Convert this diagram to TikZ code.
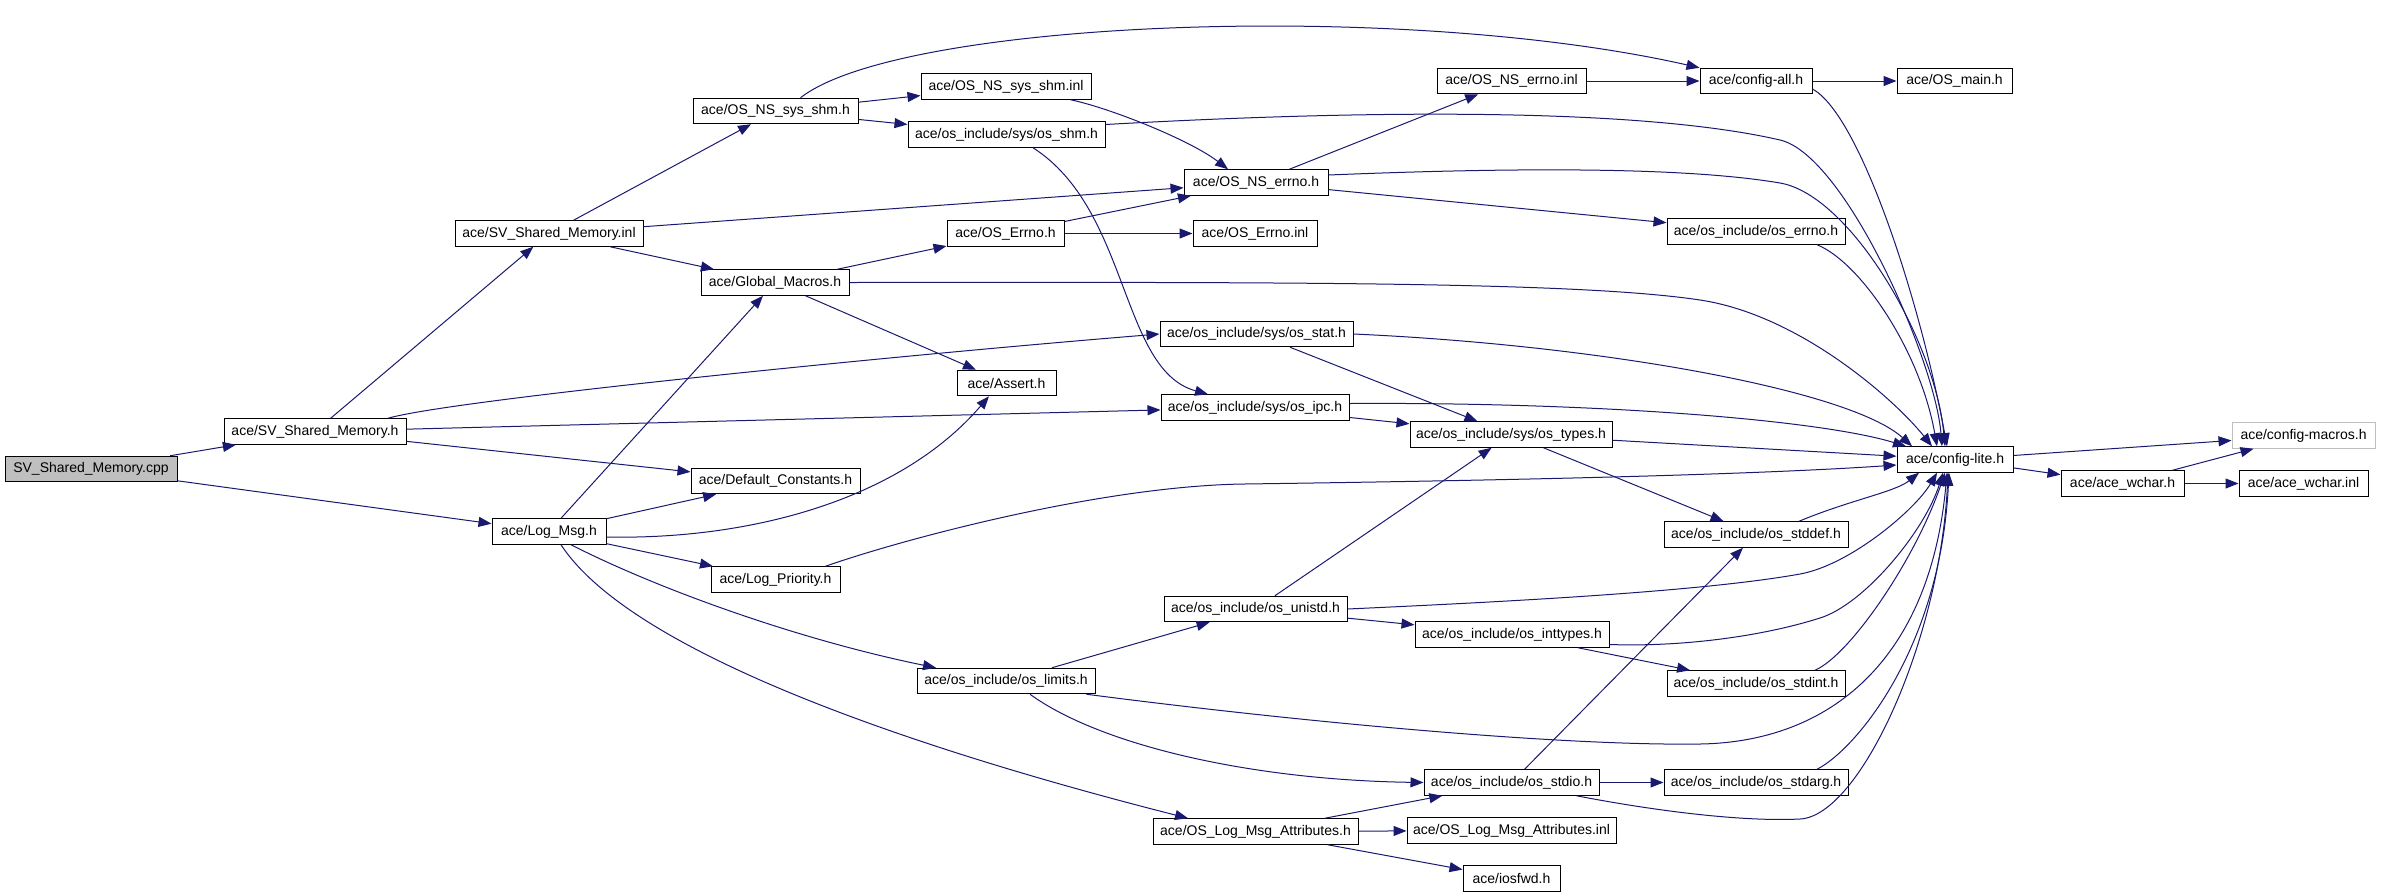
\documentclass[tikz,border=0pt]{standalone}
\usepackage{fontspec}
\newfontfamily\dotfont{Liberation Sans}
\usetikzlibrary{arrows.meta}
\definecolor{dotblue}{HTML}{191970}
\definecolor{dotgray}{HTML}{BFBFBF}

\begin{document}
\begin{tikzpicture}[x=0.5pt, y=-0.5pt,
    file/.style={draw=black, fill=white, line width=0.5pt, inner sep=1pt, minimum height=12.75pt, font=\dotfont\fontsize{7}{8}\selectfont},
    dep/.style={dotblue, line width=0.5pt, -{Triangle[length=6.5pt,width=5pt]}}]
    \useasboundingbox (0,0) rectangle (2381,895);

    \node[file, fill=dotgray, minimum width=86pt] (cpp) at (91,469) {SV\_Shared\_Memory.cpp};
    \node[file, minimum width=91pt] (svh) at (315,431.5) {ace/SV\_Shared\_Memory.h};
    \node[file, minimum width=94pt] (svinl) at (549,233.5) {ace/SV\_Shared\_Memory.inl};
    \node[file, minimum width=57pt] (logmsg) at (549,531.5) {ace/Log\_Msg.h};
    \node[file, minimum width=82.5pt] (nssysshm) at (775.5,111) {ace/OS\_NS\_sys\_shm.h};
    \node[file, minimum width=74pt] (globalmacros) at (775,282.5) {ace/Global\_Macros.h};
    \node[file, minimum width=84.5pt] (defconst) at (775.5,481) {ace/Default\_Constants.h};
    \node[file, minimum width=64.5pt] (logprio) at (775.5,579.5) {ace/Log\_Priority.h};
    \node[file, minimum width=85pt] (nssysshminl) at (1006,86.5) {ace/OS\_NS\_sys\_shm.inl};
    \node[file, minimum width=98.5pt] (sysshm) at (1006.5,134.5) {ace/os\_include/sys/os\_shm.h};
    \node[file, minimum width=58.5pt] (oserrnoh) at (1005.5,233.5) {ace/OS\_Errno.h};
    \node[file, minimum width=49.5pt] (assert) at (1006.5,383) {ace/Assert.h};
    \node[file, minimum width=89pt] (limits) at (1006,681) {ace/os\_include/os\_limits.h};
    \node[file, minimum width=74.5pt] (nserrnoinl) at (1511.5,81) {ace/OS\_NS\_errno.inl};
    \node[file, minimum width=72pt] (nserrnoh) at (1256,182.5) {ace/OS\_NS\_errno.h};
    \node[file, minimum width=62pt] (oserrnoinl) at (1255,233.5) {ace/OS\_Errno.inl};
    \node[file, minimum width=96.5pt] (sysstat) at (1256.5,334) {ace/os\_include/sys/os\_stat.h};
    \node[file, minimum width=94pt] (sysipc) at (1255,407.5) {ace/os\_include/sys/os\_ipc.h};
    \node[file, minimum width=91.5pt] (unistd) at (1255.5,609) {ace/os\_include/os\_unistd.h};
    \node[file, minimum width=102.5pt] (logattr) at (1255.5,831.5) {ace/OS\_Log\_Msg\_Attributes.h};
    \node[file, minimum width=101pt] (systypes) at (1511,434.5) {ace/os\_include/sys/os\_types.h};
    \node[file, minimum width=97pt] (inttypes) at (1512,634.5) {ace/os\_include/os\_inttypes.h};
    \node[file, minimum width=87.5pt] (stdio) at (1511.5,782.5) {ace/os\_include/os\_stdio.h};
    \node[file, minimum width=104.5pt] (logattrinl) at (1511.5,830.5) {ace/OS\_Log\_Msg\_Attributes.inl};
    \node[file, minimum width=48.5pt] (iosfwd) at (1511.5,878.5) {ace/iosfwd.h};
    \node[file, minimum width=56pt] (configall) at (1756,81) {ace/config-all.h};
    \node[file, minimum width=89pt] (oserrno) at (1756,231.5) {ace/os\_include/os\_errno.h};
    \node[file, minimum width=92pt] (stddef) at (1756,534.5) {ace/os\_include/os\_stddef.h};
    \node[file, minimum width=89pt] (stdint) at (1756,683.5) {ace/os\_include/os\_stdint.h};
    \node[file, minimum width=92pt] (stdarg) at (1756,782.5) {ace/os\_include/os\_stdarg.h};
    \node[file, minimum width=57.5pt] (osmain) at (1954.5,81) {ace/OS\_main.h};
    \node[file, minimum width=58pt] (configlite) at (1955,459.5) {ace/config-lite.h};
    \node[file, minimum width=61.5pt] (acewchar) at (2122.5,483.5) {ace/ace\_wchar.h};
    \node[file, draw=dotgray, minimum width=71.5pt] (configmacros) at (2303.5,435.5) {ace/config-macros.h};
    \node[file, minimum width=64.5pt] (acewcharinl) at (2303.5,483.5) {ace/ace\_wchar.inl};

    \draw[dep] (cpp) -- (svh);
    \draw[dep] (cpp) -- (logmsg);
    \draw[dep] (svh) -- (svinl);
    \draw[dep] ([xshift=36.5pt]svh.north) .. controls (450,400) and (900,355) .. (sysstat.west);
    \draw[dep] (svh) -- (sysipc);
    \draw[dep] (svh) -- (defconst);
    \draw[dep] (svinl) -- (nssysshm);
    \draw[dep] (svinl) -- (nserrnoh);
    \draw[dep] (svinl) -- (globalmacros);
    \draw[dep] ([xshift=12.5pt]nssysshm.north) .. controls (900,20) and (1400,0) .. (configall.north west);
    \draw[dep] (nssysshm) -- (nssysshminl);
    \draw[dep] (nssysshm) -- (sysshm);
    \draw[dep] ([xshift=-10.5pt]nssysshminl.south east) .. controls (1110,108) and (1190,140) .. ([xshift=-14pt]nserrnoh.north);
    \draw[dep] ([yshift=5pt]sysshm.east) .. controls (1400,108) and (1650,110) .. (1780,140) .. controls (1845,155) and (1935,360) .. ([xshift=-6.5pt]configlite.north);
    \draw[dep] ([xshift=13.25pt]sysshm.south) .. controls (1130,210) and (1120,370) .. ([xshift=-23.5pt]sysipc.north);
    \draw[dep] (nserrnoh) -- (nserrnoinl);
    \draw[dep] ([yshift=3.75pt]nserrnoh.east) .. controls (1500,168) and (1680,166) .. (1780,183) .. controls (1850,195) and (1935,340) .. ([xshift=-5pt]configlite.north);
    \draw[dep] (nserrnoh) -- (oserrno);
    \draw[dep] (nserrnoinl) -- (configall);
    \draw[dep] (configall) -- (osmain);
    \draw[dep] ([yshift=-4pt]configall.east) .. controls (1860,115) and (1920,300) .. ([xshift=-4pt]configlite.north);
    \draw[dep] (globalmacros) -- (oserrnoh);
    \draw[dep] (globalmacros.east) .. controls (1300,282) and (1580,282) .. (1700,300) .. controls (1800,315) and (1895,400) .. ([xshift=-11.5pt]configlite.north);
    \draw[dep] (globalmacros) -- (assert);
    \draw[dep] (oserrnoh) -- (nserrnoh);
    \draw[dep] (oserrnoh) -- (oserrnoinl);
    \draw[dep] ([xshift=30.5pt]oserrno.south) .. controls (1860,262) and (1920,350) .. ([xshift=-9pt]configlite.north);
    \draw[dep] (sysstat.east) .. controls (1600,345) and (1850,390) .. ([xshift=-21.5pt]configlite.north);
    \draw[dep] (sysstat) -- (systypes);
    \draw[dep] ([yshift=2pt]sysipc.east) .. controls (1600,402) and (1820,420) .. ([xshift=-24.5pt]configlite.north);
    \draw[dep] (sysipc) -- (systypes);
    \draw[dep] (systypes) -- (configlite);
    \draw[dep] (systypes) -- (stddef);
    \draw[dep] (logmsg) -- (defconst);
    \draw[dep] (logmsg) -- (globalmacros);
    \draw[dep] ([yshift=-2.75pt]logmsg.east) .. controls (750,540) and (900,500) .. ([xshift=-8.75pt]assert.south);
    \draw[dep] (logmsg) -- (logprio);
    \draw[dep] ([xshift=11pt]logmsg.south) .. controls (660,590) and (800,640) .. ([xshift=-35pt]limits.north);
    \draw[dep] ([xshift=6pt]logmsg.south) .. controls (630,650) and (900,745) .. ([xshift=-33.75pt]logattr.north);
    \draw[dep] ([xshift=25pt]logprio.north) .. controls (900,540) and (1100,486) .. (1244,484) .. controls (1500,480.5) and (1750,475) .. ([yshift=-2.75pt]configlite.west);
    \draw[dep] (limits) -- (unistd);
    \draw[dep] ([xshift=-4.5pt]limits.south east) .. controls (1300,722) and (1560,746) .. (1700,744) .. controls (1830,742) and (1930,660) .. ([xshift=-4pt]configlite.south);
    \draw[dep] ([xshift=12pt]limits.south) .. controls (1100,745) and (1250,780) .. (stdio.west);
    \draw[dep] (unistd) -- (systypes);
    \draw[dep] (unistd.east) .. controls (1500,602) and (1700,592) .. (1800,574) .. controls (1850,565) and (1915,510) .. ([xshift=-9pt]configlite.south);
    \draw[dep] (unistd) -- (inttypes);
    \draw[dep] ([yshift=-5pt]inttypes.east) .. controls (1680,647) and (1760,637) .. (1820,618) .. controls (1865,604) and (1925,530) .. ([xshift=-6pt]configlite.south);
    \draw[dep] (inttypes) -- (stdint);
    \draw[dep] ([xshift=21.5pt]stddef.north) .. controls (1850,500) and (1895,492) .. ([xshift=-18pt]configlite.south);
    \draw[dep] ([xshift=29.5pt]stdint.north) .. controls (1850,655) and (1915,560) .. ([xshift=-5pt]configlite.south);
    \draw[dep] (stdio) -- (stddef);
    \draw[dep] (stdio) -- (stdarg);
    \draw[dep] ([xshift=-11.5pt]stdio.south east) .. controls (1650,810) and (1740,822) .. (1800,819) .. controls (1860,816) and (1940,640) .. ([xshift=-3.5pt]configlite.south);
    \draw[dep] ([xshift=30.5pt]stdarg.north) .. controls (1855,750) and (1940,650) .. ([xshift=-3pt]configlite.south);
    \draw[dep] (logattr) -- (stdio);
    \draw[dep] (logattr) -- (logattrinl);
    \draw[dep] (logattr) -- (iosfwd);
    \draw[dep] (configlite) -- (configmacros);
    \draw[dep] (configlite) -- (acewchar);
    \draw[dep] (acewchar) -- (configmacros);
    \draw[dep] (acewchar) -- (acewcharinl);
\end{tikzpicture}
\end{document}
